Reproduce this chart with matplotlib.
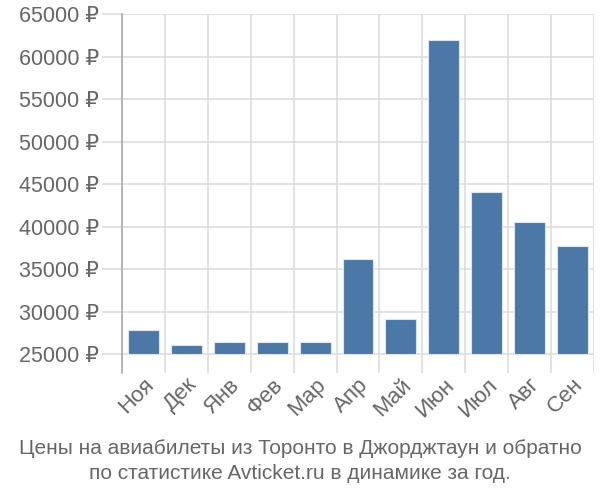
import matplotlib
matplotlib.use("Agg")
import matplotlib.pyplot as plt
import numpy as np

months = ["Ноя", "Дек", "Янв", "Фев", "Мар", "Апр", "Май", "Июн", "Июл", "Авг", "Сен"]
prices = [27820, 26060, 26410, 26410, 26410, 36170, 29120, 61930, 44120, 40590, 37740]
yticks = [25000, 30000, 35000, 40000, 45000, 50000, 55000, 60000, 65000]
title = "Цены на авиабилеты из Торонто в Джорджтаун и обратно\nпо статистике Avticket.ru в динамике за год."

plt.rcParams['font.family'] = ['Liberation Sans', 'DejaVu Sans']

fig = plt.figure(figsize=(6, 5), dpi=100)
ax = fig.add_axes([122/600, 1-373/500, (594-122)/600, (373-14)/500])

base = 25000
x = np.arange(len(months))
heights = [p - base for p in prices]
ax.bar(x, heights, bottom=base, width=0.72, color="#4c78a8", edgecolor="#dde6f0", linewidth=0.8, zorder=3)

ax.set_xlim(-0.5, len(months) - 0.5)
ax.set_ylim(22770, 65000)

ax.set_yticks(yticks)
ax.set_yticklabels([f"{v} ₽" for v in yticks])
ax.set_xticks(x)
ax.set_xticklabels(months, rotation=45, ha="right", rotation_mode="anchor")
ax.set_xticks(np.arange(len(months) + 1) - 0.5, minor=True)

ax.grid(False)
ax.yaxis.grid(True, color="#dddddd", linewidth=1.2, zorder=0)
ax.xaxis.grid(True, which="minor", color="#dddddd", linewidth=1.2, zorder=0)

for s in ["top", "right", "bottom"]:
    ax.spines[s].set_visible(False)
ax.spines["left"].set_color("#aaaaaa")
ax.spines["left"].set_linewidth(1.2)

ax.tick_params(axis="y", length=14.5, color="#dddddd", width=1.2, pad=2, labelsize=15.5, labelcolor="#666666")
ax.tick_params(axis="x", which="major", length=0, pad=1, labelsize=16, labelcolor="#666666")
ax.tick_params(axis="x", which="minor", length=0)

fig.text(0.5, 1 - 461/500, title, ha="center", va="center", fontsize=15, color="#666666",
         linespacing=1.35)

fig.savefig("out.png", dpi=100)
